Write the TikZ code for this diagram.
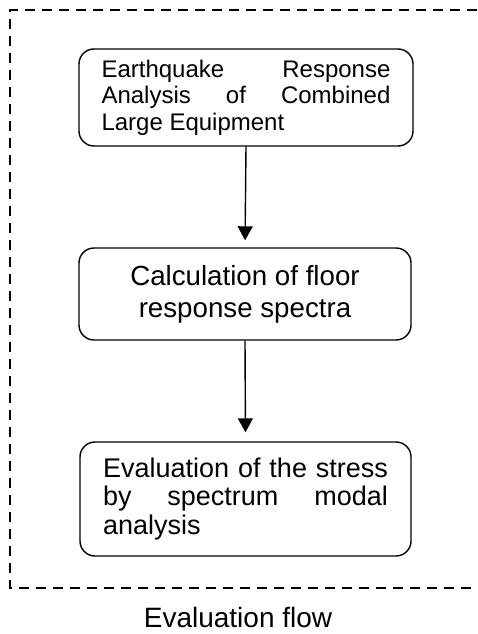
\documentclass[tikz,border=0pt]{standalone}
\usepackage{fontspec}
\setmainfont{Liberation Sans}
\usetikzlibrary{arrows.meta}
\begin{document}
\begin{tikzpicture}[x=1pt,y=-1pt,
  box/.style={draw, line width=1.4pt, rounded corners=15pt, inner sep=0pt},
  flow/.style={line width=1.4pt, -{Triangle[width=15pt,length=14pt]}},
  frame/.style={line width=1.3pt, dash pattern=on 10pt off 7pt}]
\useasboundingbox (0,0) rectangle (477,634);
% dashed frame
\coordinate (tr) at (477,10);
\coordinate (tl) at (10,10);
\coordinate (bl) at (10,588);
\coordinate (br) at (477,588);
\draw[frame] (tr) -- (tl) -- (bl) -- (br);
% boxes
\node[box, minimum width=334pt, minimum height=97pt, text width=289pt, align=justify,
      font=\fontsize{24}{26.5}\selectfont] (b1) at (246,97.5)
  {\hyphenpenalty=10000 Earthquake Response Analysis of Combined Large Equipment};
\node[box, minimum width=332pt, minimum height=92pt, align=center,
      font=\fontsize{27.7}{32}\selectfont] (b2) at (245,294)
  {Calculation of floor\\response spectra};
\node[box, minimum width=331pt, minimum height=114pt, text width=285pt, align=justify,
      font=\fontsize{27}{28.7}\selectfont] (b3) at (245.5,499)
  {\hyphenpenalty=10000 Evaluation of the stress by spectrum modal analysis};
% arrows
\draw[flow, shorten >=7pt] (b1.south) -- (b2.north);
\draw[flow, shorten >=9pt] (b2.south) -- (b3.north);
% caption
\node[font=\fontsize{28}{32}\selectfont, anchor=base] (cap) at (238,627) {Evaluation flow};
\end{tikzpicture}
\end{document}
